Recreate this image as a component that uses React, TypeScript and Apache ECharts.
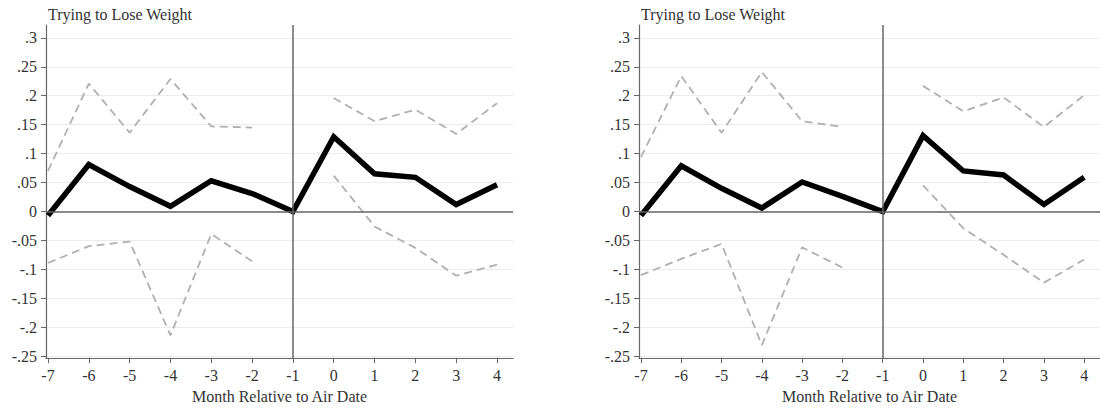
import React, { useEffect, useRef } from "react";
import * as echarts from "echarts";

const months = [-7, -6, -5, -4, -3, -2, -1, 0, 1, 2, 3, 4];
const yTicks = [-0.25, -0.2, -0.15, -0.1, -0.05, 0, 0.05, 0.1, 0.15, 0.2, 0.25, 0.3];
const panelTitle = "Trying to Lose Weight";
const xAxisTitle = "Month Relative to Air Date";

const leftEstimate = [-0.007, 0.081, 0.043, 0.009, 0.053, 0.031, 0, 0.129, 0.065, 0.059, 0.012, 0.046];
const leftUpper = [0.07, 0.221, 0.136, 0.229, 0.147, 0.145, null, 0.196, 0.156, 0.176, 0.134, 0.187];
const leftLower = [-0.089, -0.06, -0.052, -0.214, -0.039, -0.086, null, 0.062, -0.026, -0.063, -0.111, -0.092];

const rightEstimate = [-0.007, 0.079, 0.04, 0.006, 0.051, 0.026, 0, 0.131, 0.07, 0.063, 0.012, 0.059];
const rightUpper = [0.094, 0.234, 0.136, 0.241, 0.156, 0.146, null, 0.217, 0.173, 0.197, 0.146, 0.201];
const rightLower = [-0.11, -0.082, -0.056, -0.231, -0.062, -0.097, null, 0.045, -0.029, -0.075, -0.123, -0.083];

const FONT = "'Liberation Serif', 'Times New Roman', serif";
const TEXT = "#333";
const AXIS = "#666";

function pairs(vals: (number | null)[]) {
  return months.map((m, i) => [m, vals[i] === null ? null : vals[i]]);
}

function fmtY(v: number) {
  if (Math.abs(v) < 1e-9) return "0";
  const s = String(Math.round(Math.abs(v) * 100) / 100).replace(/^0/, "");
  return (v < 0 ? "-" : "") + s;
}

export default function App() {
  const ref = useRef<HTMLDivElement>(null);
  useEffect(() => {
    if (!ref.current) return;
    const chart = echarts.init(ref.current, null, { renderer: "svg" });
    const lefts = [46, 639];
    const grids = lefts.map((l) => ({ left: l, top: 25, width: 467, height: 337 }));
    const xAxes = lefts.map((_, i) => ({
      type: "value",
      gridIndex: i,
      min: -7.049,
      max: 4.392,
      name: xAxisTitle,
      nameLocation: "middle",
      nameGap: 25,
      nameTextStyle: { fontFamily: FONT, fontSize: 16, color: TEXT },
      axisLine: { show: true, onZero: false, lineStyle: { color: AXIS, width: 1.2 } },
      axisTick: { show: true, length: 5, customValues: months, lineStyle: { color: AXIS } },
      axisLabel: {
        customValues: months,
        margin: 9,
        fontFamily: FONT,
        fontSize: 16,
        color: TEXT,
        formatter: (v: number) => String(v),
      },
      splitLine: { show: false },
    }));
    const yAxes = lefts.map((_, i) => ({
      type: "value",
      gridIndex: i,
      min: -0.2534,
      max: 0.3222,
      axisLine: { show: true, onZero: false, lineStyle: { color: AXIS, width: 1.2 } },
      axisTick: { show: true, length: 5, customValues: yTicks, lineStyle: { color: AXIS } },
      axisLabel: {
        customValues: yTicks,
        margin: 9,
        fontFamily: FONT,
        fontSize: 16,
        color: TEXT,
        formatter: (v: number) => fmtY(v),
      },
      splitLine: { show: true, lineStyle: { color: "#ececec", width: 1 } },
    }));
    const panels = [
      [leftEstimate, leftUpper, leftLower],
      [rightEstimate, rightUpper, rightLower],
    ];
    const series: any[] = [];
    panels.forEach((p, i) => {
      series.push({
        type: "line",
        xAxisIndex: i,
        yAxisIndex: i,
        data: [],
        silent: true,
        z: 1,
        markLine: {
          symbol: "none",
          silent: true,
          label: { show: false },
          lineStyle: { color: AXIS, width: 1.5, type: "solid" },
          data: [{ xAxis: -1 }, { yAxis: 0 }],
        },
      });
      [p[1], p[2]].forEach((d) =>
        series.push({
          type: "line",
          xAxisIndex: i,
          yAxisIndex: i,
          data: pairs(d),
          showSymbol: false,
          symbol: "none",
          connectNulls: false,
          z: 2,
          lineStyle: { color: "#b0b0b0", width: 1.8, type: [8, 5] },
        })
      );
      series.push({
        type: "line",
        xAxisIndex: i,
        yAxisIndex: i,
        data: pairs(p[0]),
        showSymbol: false,
        symbol: "none",
        z: 3,
        lineStyle: { color: "#000", width: 5.5, join: "miter" },
      });
    });
    chart.setOption({
      animation: false,
      backgroundColor: "#fff",
      title: lefts.map((l) => ({
        text: panelTitle,
        left: l + 2,
        top: 6,
        padding: 0,
        textStyle: { fontFamily: FONT, fontSize: 16, fontWeight: "normal", color: TEXT },
      })),
      grid: grids,
      xAxis: xAxes,
      yAxis: yAxes,
      series,
    });
    return () => chart.dispose();
  }, []);
  return (
    <div
      ref={ref}
      style={{ position: "absolute", left: 0, top: 0, width: 1100, height: 409 }}
    />
  );
}
